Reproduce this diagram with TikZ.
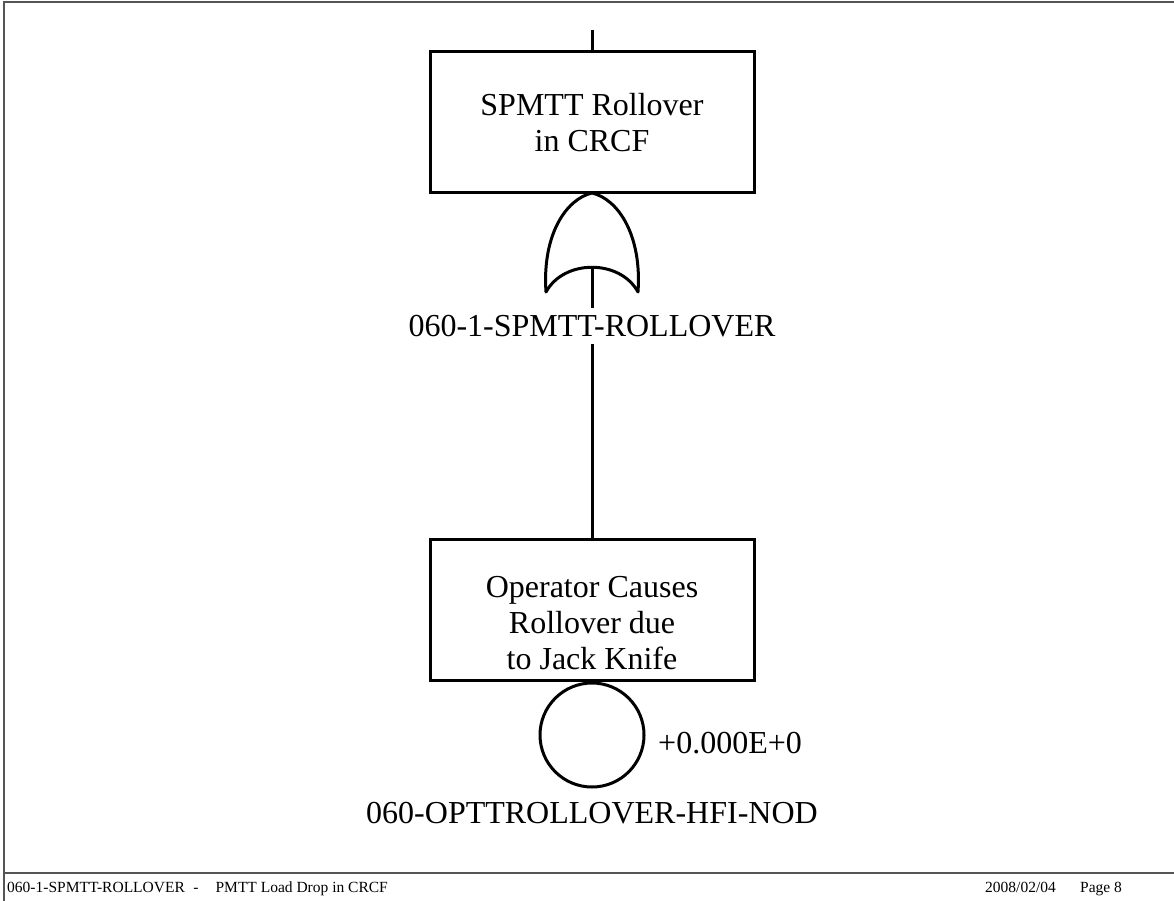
\documentclass[tikz,border=0pt]{standalone}
\usepackage{fontspec}
\setmainfont{Liberation Serif}
\usepackage{tikz}
\usetikzlibrary{positioning}
\definecolor{ink}{HTML}{000000}
\definecolor{frame}{HTML}{555555}
\tikzset{eventbox/.style={draw=ink,line width=3pt,rectangle,minimum width=324pt,minimum height=141pt,align=center,font=\fontsize{32}{36}\selectfont},gatepath/.style={draw=ink,line width=3pt,line join=round},basiccircle/.style={draw=ink,line width=3pt,circle,minimum size=104pt,inner sep=0pt},wire/.style={draw=ink,line width=3pt},tag/.style={font=\fontsize{32}{36}\selectfont,inner sep=7pt,align=center}}
\tikzset{foottext/.style={font=\fontsize{15.5}{18}\selectfont,inner sep=0pt,anchor=base west}}

\begin{document}
\begin{tikzpicture}[x=1pt,y=-1pt]
\useasboundingbox (0,0) rectangle (1174,901);
\draw[frame,line width=1.5pt] (1174,2)--(4,2)--(4,901);
\draw[frame,line width=1.5pt] (4,873)--(1174,873);
\coordinate (feed) at (592,30);
\node[eventbox] (rollover) at (592,122.5) {SPMTT Rollover\\in CRCF};
\draw[wire] (feed)--(rollover.north);
\coordinate (gtop) at (592,193);
\coordinate (gin) at (592,267);
\draw[gatepath] (546,292) .. controls (542,235) and (566,199) .. (gtop)
  .. controls (618,199) and (642,235) .. (638,292)
  .. controls (620,259) and (564,259) .. cycle;
\node[tag] (gatelbl) at (592,326) {060-1-SPMTT-ROLLOVER};
\draw[wire] (gin)--(gatelbl.north);
\node[eventbox] (jackknife) at (592,609.5) {};
\node[tag,inner sep=0pt] (jackknifetxt) at ([yshift=-14pt]jackknife.center) {Operator Causes\\Rollover due\\to Jack Knife};
\draw[wire] (gatelbl.south)--(jackknife.north);
\node[basiccircle,anchor=north] (hfi) at (jackknife.south) {};
\node[tag,anchor=base west,inner sep=0pt] (prob) at (658,753) {+0.000E+0};
\node[tag,anchor=base,inner sep=0pt] (hfilbl) at (592,823) {060-OPTTROLLOVER-HFI-NOD};
\node[foottext] (footl) at (7,892) {060-1-SPMTT-ROLLOVER\hspace{0.55em}-\hspace{1.1em}PMTT Load Drop in CRCF};
\node[foottext] (footd) at (985,892) {2008/02/04};
\node[foottext] (footp) at (1080,892) {Page 8};
\end{tikzpicture}
\end{document}
